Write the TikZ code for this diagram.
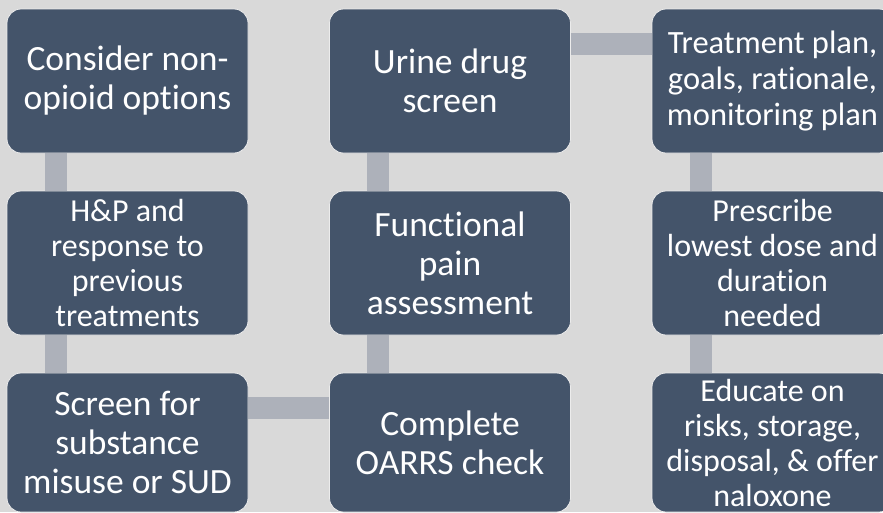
\documentclass[tikz,border=0pt]{standalone}
\usepackage{fontspec}
\setmainfont{Carlito}[Ligatures=NoCommon]
\usepackage{tikz}
\definecolor{boxfill}{HTML}{44546A}
\definecolor{barfill}{HTML}{ADB1BA}
\definecolor{pagebg}{HTML}{D9D9D9}

\begin{document}
\begin{tikzpicture}
    [
        x=1pt, y=1pt,
        box style/.style={draw=white!85!gray, line width=0.8pt, fill=boxfill, rounded corners=14pt,
            minimum width=241pt, minimum height=144pt, text=white, align=center, inner sep=0pt,
            font=\fontsize{35.5}{39}\selectfont},
        low row/.style={minimum height=139pt},
        small text/.style={font=\fontsize{32}{35}\selectfont},
        bar style/.style={draw=barfill, line width=22pt}
    ]
    \clip (0,0) rectangle (883,-512);
    \fill[pagebg] (0,0) rectangle (883,-512);
    % first column
    \node[box style] (nonopioid) at (127.5,-81) {Consider non-\\opioid options};
    \node[box style, small text] (history) at (127.5,-263) {H\&P and\\response to\\previous\\treatments};
    \node[box style, low row] (misuse) at (127.5,-442.5) {Screen for\\substance\\misuse or SUD};
    % second column
    \node[box style] (urine) at (450,-81) {Urine drug\\screen};
    \node[box style] (pain) at (450,-263) {Functional\\pain\\assessment};
    \node[box style, low row] (oarrs) at (450,-442.5) {Complete\\OARRS check};
    % third column
    \node[box style, small text, font=\fontsize{32.5}{36}\selectfont] (plan) at (772.5,-81) {Treatment plan,\\goals, rationale,\\monitoring plan};
    \node[box style, small text] (dose) at (772.5,-263) {Prescribe\\lowest dose and\\duration\\needed};
    \node[box style, small text, low row] (educate) at (772.5,-442.5) {Educate on\\risks, storage,\\disposal, \& offer\\naloxone};
    % bars
    \draw[bar style] ([xshift=-72pt]nonopioid.south) -- ([xshift=-72pt]history.north);
    \draw[bar style] ([xshift=-72pt]history.south) -- ([xshift=-72pt]misuse.north);
    \draw[bar style] ([yshift=-35pt]misuse.north east) -- ([yshift=-35pt]oarrs.north west);
    \draw[bar style] ([xshift=-72pt]oarrs.north) -- ([xshift=-72pt]pain.south);
    \draw[bar style] ([xshift=-72pt]pain.north) -- ([xshift=-72pt]urine.south);
    \draw[bar style] ([yshift=-35pt]urine.north east) -- ([yshift=-35pt]plan.north west);
    \draw[bar style] ([xshift=-72pt]plan.south) -- ([xshift=-72pt]dose.north);
    \draw[bar style] ([xshift=-72pt]dose.south) -- ([xshift=-72pt]educate.north);
\end{tikzpicture}
\end{document}
